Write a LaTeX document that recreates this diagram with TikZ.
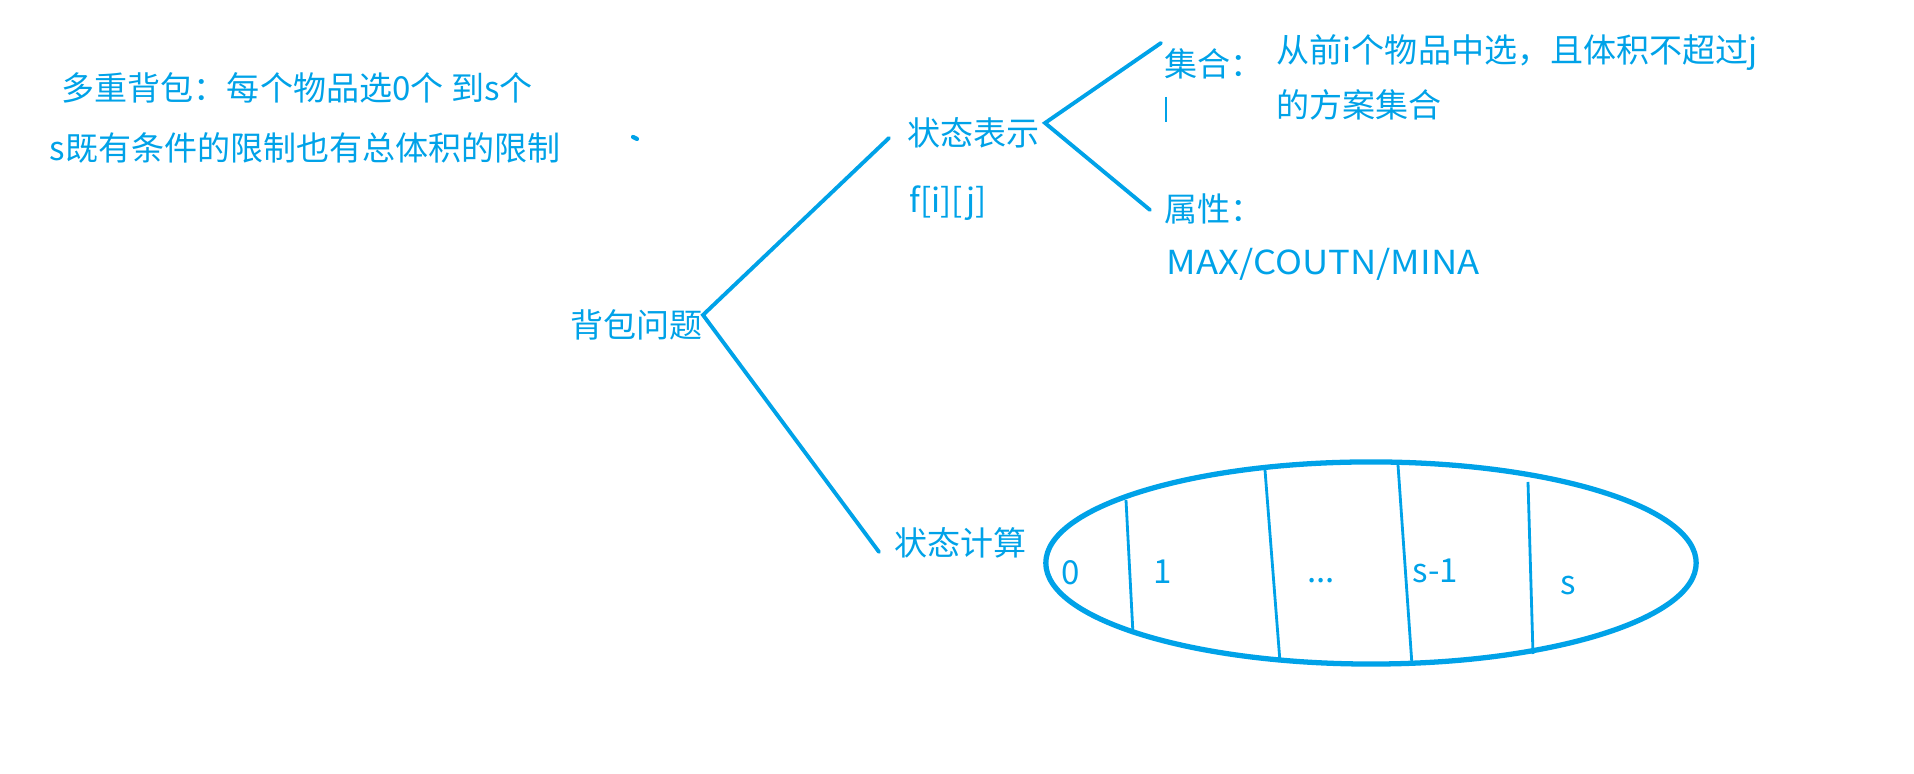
\documentclass[tikz,border=0pt]{standalone}
\usepackage{fontspec}
\setmainfont{Noto Sans CJK SC}
\usetikzlibrary{shapes.geometric}
\definecolor{pen}{HTML}{00A2E8}
\begin{document}
\begin{tikzpicture}[x=0.01cm, y=-0.01cm,
    txt/.style={text=pen, font=\fontsize{9.4}{11}\selectfont, inner sep=0pt, anchor=base west},
    num/.style={txt, anchor=base},
    branch/.style={draw=pen, line width=1.1pt, line cap=round},
    cell/.style={draw=pen, line width=0.8pt}
]
    \useasboundingbox (0,0) rectangle (1914,774);

    % notes
    \node[txt] (multi) at (61,101) {多重背包：每个物品选0个 到s个};
    \node[txt] (limit) at (49,161) {s既有条件的限制也有总体积的限制};
    \draw[pen, line width=1.2pt, line cap=round] (633,137) -- (637,139);

    % tree
    \node[txt] (bag) at (570,338) {背包问题};
    \node[txt] (repr) at (907,146) {状态表示};
    \node[txt] (fij) at (909,213) {f[i][j]};
    \node[txt] (calc) at (894,556) {状态计算};
    \node[txt] (set) at (1164,77) {集合：};
    \node[txt] (setdesc) at (1276,63) {从前i个物品中选，且体积不超过j};
    \node[txt] (setdesc2) at (1276,118) {的方案集合};
    \node[txt] (attr) at (1164,222) {属性：};
    \node[txt, xscale=1.1] (attrval) at (1166,275) {MAX/COUTN/MINA};

    \coordinate (bagtip) at (703,315);
    \coordinate (reprin) at (889,138);
    \coordinate (calcin) at (879,552);
    \coordinate (reprtip) at (1045,123);
    \coordinate (setin) at (1161,43);
    \coordinate (attrin) at (1150,210);
    \draw[branch] (reprin) -- (bagtip) -- (calcin);
    \draw[branch] (setin) -- (reprtip) -- (attrin);
    \draw[pen, line width=0.4pt] (1166,97) -- (1166,122);

    % states
    \node[draw=pen, line width=1.5pt, ellipse, minimum width=6.5cm, minimum height=2.02cm] (states) at (1371,563) {};
    \foreach \xt/\yt/\xb/\yb in {1126/500/1133/634, 1265/470/1280/662, 1398/465/1412/665, 1528/482/1533/654}
        \draw[cell] (\xt,\yt) -- (\xb,\yb);
    \node[num] (c0) at (1071,585) {0};
    \node[num] (c1) at (1163,584) {1};
    \node[num] (cdots) at (1321,583) {...};
    \node[num] (cs1) at (1435,583) {s-1};
    \node[num] (cs) at (1568,595) {s};
\end{tikzpicture}
\end{document}
